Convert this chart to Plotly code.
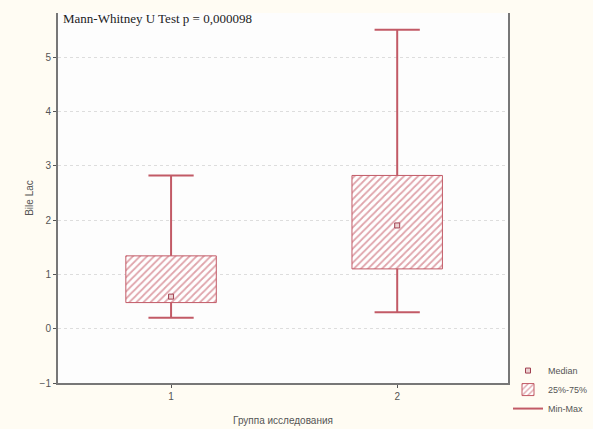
import plotly.graph_objects as go

groups = [1, 2]
group_labels = ["1", "2"]
q1 = [0.48, 1.10]
q3 = [1.34, 2.82]
medians = [0.59, 1.90]
mins = [0.20, 0.30]
maxs = [2.82, 5.50]
y_ticks = [-1, 0, 1, 2, 3, 4, 5]
title_text = "Mann-Whitney U Test p = 0,000098"
y_title = "Bile Lac"
x_title = "Группа исследования"

RED = "#C25A66"
CAP = 0.1

fig = go.Figure()

fig.add_trace(go.Bar(
    x=groups, y=[b - a for a, b in zip(q1, q3)], base=q1, width=0.4,
    name="25%-75%", legendrank=2,
    marker=dict(color="white", line=dict(color=RED, width=1),
                pattern=dict(shape="/", fgcolor="#C04A58", bgcolor="white", size=5, solidity=0.35)),
    hoverinfo="skip",
))

wx, wy = [], []
for g, lo, a, b, hi in zip(groups, mins, q1, q3, maxs):
    wx += [g, g, None, g, g, None, g - CAP, g + CAP, None, g - CAP, g + CAP, None]
    wy += [lo, a, None, b, hi, None, lo, lo, None, hi, hi, None]
fig.add_trace(go.Scatter(x=wx, y=wy, mode="lines", name="Min-Max", legendrank=3,
                         line=dict(color=RED, width=2), hoverinfo="skip"))

fig.add_trace(go.Scatter(x=groups, y=medians, mode="markers", name="Median", legendrank=1,
                         marker=dict(symbol="square", size=5, color="#EBD0D0",
                                     line=dict(color="#A04050", width=1))))

fig.add_annotation(text=title_text, xref="paper", yref="paper", x=0.006, y=1.0,
                   xanchor="left", yanchor="top", yshift=4, showarrow=False,
                   font=dict(family="Liberation Serif", size=13, color="#222"))

fig.update_layout(
    width=593, height=429,
    margin=dict(l=58, r=84, t=13, b=46),
    paper_bgcolor="#FFFCF3", plot_bgcolor="#FDFDFD",
    barmode="overlay",
    font=dict(family="Liberation Sans, Arial", size=10, color="#555"),
    legend=dict(xref="container", yref="container", x=1.0, y=0.170,
                xanchor="right", yanchor="top",
                bgcolor="rgba(0,0,0,0)", font=dict(size=9, color="#555"),
                tracegroupgap=0, itemwidth=30, traceorder="normal"),
    xaxis=dict(range=[0.5, 2.49], tickvals=groups, ticktext=group_labels, automargin=False,
               showgrid=False, zeroline=False, showline=True, linecolor="#777", linewidth=2,
               ticks="outside", ticklen=3, tickcolor="#555",
               title=dict(text=x_title, font=dict(size=10, color="#555"), standoff=16)),
    yaxis=dict(range=[-1, 5.81], tickvals=y_ticks, showgrid=True, gridcolor="#DDDDDD",
               griddash="dot", zeroline=False, showline=True, mirror=True, automargin=False,
               linecolor="#777", linewidth=2, ticks="outside", ticklen=3, tickcolor="#555",
               title=dict(text=y_title, font=dict(size=10, color="#555"), standoff=4)),
)

fig.write_html("out.html", config={"displayModeBar": False},
               post_script="document.body.style.margin='0';document.body.style.background='#FFFCF3';")
